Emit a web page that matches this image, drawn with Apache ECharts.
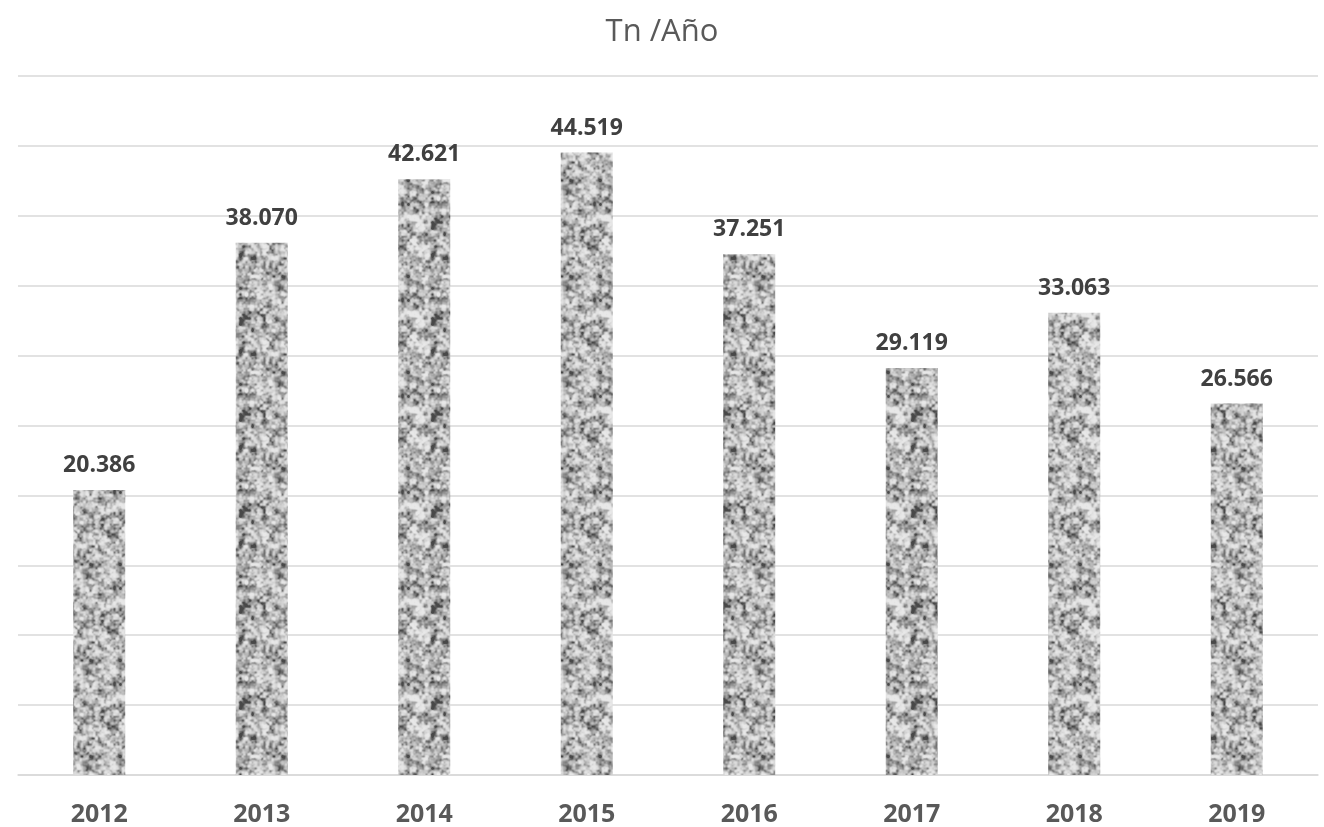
<!DOCTYPE html>
<html><head><meta charset="utf-8">
<script src="https://cdn.jsdelivr.net/npm/echarts@6/dist/echarts.min.js"></script>
<style>html,body{margin:0;padding:0;background:#fff}#c{width:1324px;height:827px}</style>
</head><body><div id="c"></div>
<script>
const years = ['2012','2013','2014','2015','2016','2017','2018','2019'];
const tonnes = [20386, 38070, 42621, 44519, 37251, 29119, 33063, 26566];

// decorative granite-like texture (deterministic hash value noise)
function makeTexture(){
  const s = 96, cv = document.createElement('canvas');
  cv.width = s; cv.height = s;
  const ctx = cv.getContext('2d');
  const img = ctx.createImageData(s, s);
  function h(x, y, k){ let n = (x*374761393 + y*668265263 + k*2246822519) | 0; n = Math.imul(n ^ (n >>> 13), 1274126177); n = n ^ (n >>> 16); return ((n >>> 0) % 10000) / 10000; }
  function vn(x, y, cell, k){
    const m = s / cell;
    const gx = x / cell, gy = y / cell;
    const x0 = Math.floor(gx), y0 = Math.floor(gy);
    const fx = gx - x0, fy = gy - y0;
    const sx = fx*fx*(3-2*fx), sy = fy*fy*(3-2*fy);
    const a = h(x0%m, y0%m, k), b = h((x0+1)%m, y0%m, k), c = h(x0%m, (y0+1)%m, k), d = h((x0+1)%m, (y0+1)%m, k);
    return (a*(1-sx)+b*sx)*(1-sy) + (c*(1-sx)+d*sx)*sy;
  }
  for (let y=0; y<s; y++) for (let x=0; x<s; x++){
    const v = vn(x,y,6,1)*0.4 + vn(x,y,3,2)*0.4 + vn(x,y,2,3)*0.2;
    let t = Math.max(0, Math.min(1, (v - 0.2) / 0.6));
    let g = 232 - Math.pow(1 - t, 1.8) * 160;
    g = Math.max(70, Math.min(238, Math.round(g)));
    const i = (y*s + x)*4;
    img.data[i]=g; img.data[i+1]=g; img.data[i+2]=g; img.data[i+3]=255;
  }
  ctx.putImageData(img, 0, 0);
  return cv;
}
const tex = makeTexture();

const chart = echarts.init(document.getElementById('c'));
chart.setOption({
  animation: false,
  title: { text: 'Tn /Año', left: 'center', top: 12,
    textStyle: { fontFamily: 'Open Sans', fontSize: 31, fontWeight: 'normal', color: '#595959' } },
  grid: { left: 18, right: 6, top: 76, bottom: 51 },
  xAxis: { type: 'category', data: years,
    axisLine: { show: true, lineStyle: { color: '#d9d9d9', width: 1.5 } },
    axisTick: { show: false },
    axisLabel: { margin: 27, fontFamily: 'Open Sans', fontSize: 25, fontWeight: 'bold', color: '#595959' } },
  yAxis: { type: 'value', min: 0, max: 50000, interval: 5000,
    axisLabel: { show: false }, axisLine: { show: false }, axisTick: { show: false },
    splitLine: { lineStyle: { color: '#d9d9d9', width: 1.5 } } },
  series: [{
    type: 'bar', data: tonnes, barWidth: '32%',
    itemStyle: { color: { image: tex, repeat: 'repeat' } },
    label: { show: true, position: 'top', distance: 13,
      formatter: p => (p.value/1000).toFixed(3),
      fontFamily: 'Open Sans', fontSize: 23, fontWeight: 'bold', color: '#404040' }
  }]
});
</script></body></html>
